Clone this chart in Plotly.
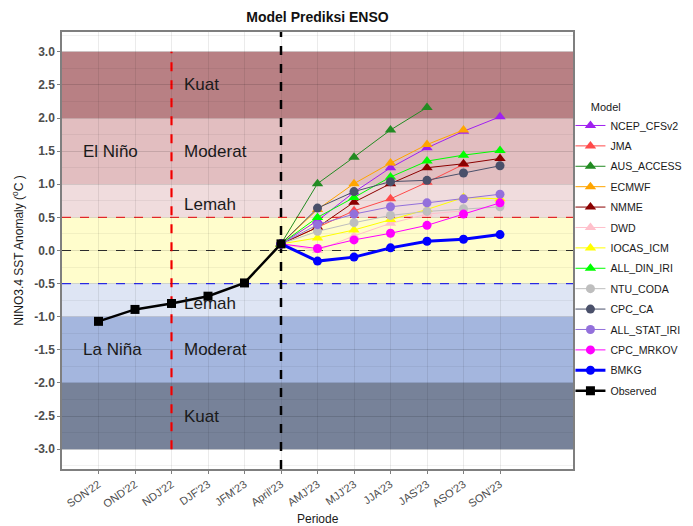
import plotly.graph_objects as go

periods = ["SON'22", "OND'22", "NDJ'22", "DJF'23", "JFM'23", "April'23",
           "AMJ'23", "MJJ'23", "JJA'23", "JAS'23", "ASO'23", "SON'23"]
forecast_periods = periods[5:]

observed = [-1.07, -0.89, -0.80, -0.69, -0.49, 0.10]

# forecasts from AMJ'23 onward (None = no forecast)
ncep_cfsv2   = [0.45, 0.88, 1.25, 1.55, 1.80, 2.02]
jma          = [0.35, 0.60, 0.78, 1.03, 1.30, None]
aus_access   = [1.01, 1.41, 1.82, 2.16, None, None]
ecmwf        = [0.62, 1.01, 1.32, 1.60, 1.82, None]
nmme         = [0.35, 0.73, 1.01, 1.25, 1.31, 1.39]
dwd          = [0.00, 0.22, 0.41, 0.55, 0.60, None]
iocas_icm    = [0.19, 0.31, 0.47, 0.62, 0.80, 0.78]
all_din_iri  = [0.50, 0.80, 1.11, 1.35, 1.44, 1.51]
ntu_coda     = [0.29, 0.42, 0.53, 0.59, 0.63, 0.66]
cpc_ca       = [0.64, 0.89, 1.04, 1.06, 1.17, 1.28]
all_stat_iri = [0.39, 0.55, 0.66, 0.72, 0.78, 0.85]
cpc_mrkov    = [0.03, 0.16, 0.26, 0.38, 0.55, 0.72]
bmkg         = [-0.16, -0.10, 0.04, 0.14, 0.17, 0.24]

models = [
    ("NCEP_CFSv2", ncep_cfsv2, "#A020F0", "triangle-up"),
    ("JMA", jma, "#FF4A4A", "triangle-up"),
    ("AUS_ACCESS", aus_access, "#228B22", "triangle-up"),
    ("ECMWF", ecmwf, "#FFA500", "triangle-up"),
    ("NMME", nmme, "#8B0000", "triangle-up"),
    ("DWD", dwd, "#FFC0CB", "triangle-up"),
    ("IOCAS_ICM", iocas_icm, "#FFFF00", "triangle-up"),
    ("ALL_DIN_IRI", all_din_iri, "#00FF00", "triangle-up"),
    ("NTU_CODA", ntu_coda, "#BEBEBE", "circle"),
    ("CPC_CA", cpc_ca, "#4A506A", "circle"),
    ("ALL_STAT_IRI", all_stat_iri, "#9370DB", "circle"),
    ("CPC_MRKOV", cpc_mrkov, "#FF00FF", "circle"),
    ("BMKG", bmkg, "#0000FF", "circle"),
]

idx = {p: i for i, p in enumerate(periods)}

fig = go.Figure()

# ENSO category bands
bands = [
    (2.0, 3.0, "rgb(184,128,132)"),
    (1.0, 2.0, "rgb(226,190,192)"),
    (0.5, 1.0, "rgb(240,220,221)"),
    (-0.5, 0.5, "rgb(255,253,204)"),
    (-1.0, -0.5, "rgb(222,229,244)"),
    (-2.0, -1.0, "rgb(164,182,222)"),
    (-3.0, -2.0, "rgb(119,130,153)"),
]
for y0, y1, col in bands:
    fig.add_shape(type="rect", xref="paper", yref="y", x0=0, x1=1, y0=y0, y1=y1,
                  fillcolor=col, line_width=0, layer="below")

# reference lines
fig.add_shape(type="line", xref="paper", yref="y", x0=0, x1=1, y0=0.5, y1=0.5,
              line=dict(color="#FF3030", width=1.2, dash="dash"), layer="below")
fig.add_shape(type="line", xref="paper", yref="y", x0=0, x1=1, y0=-0.5, y1=-0.5,
              line=dict(color="#3030FF", width=1.2, dash="dash"), layer="below")
fig.add_shape(type="line", xref="paper", yref="y", x0=0, x1=1, y0=0, y1=0,
              line=dict(color="#333333", width=1.2, dash="dash"), layer="below")
fig.add_shape(type="line", xref="x", yref="y", x0=idx["NDJ'22"], x1=idx["NDJ'22"], y0=-3, y1=3,
              line=dict(color="#FF0000", width=2.2, dash="dash"), layer="below")
fig.add_shape(type="line", xref="x", yref="paper", x0=idx["April'23"], x1=idx["April'23"], y0=0, y1=1,
              line=dict(color="#000000", width=2.5, dash="dash"), layer="below")

# models
for name, vals, col, sym in models:
    xs = [idx[forecast_periods[0]]]
    ys = [observed[-1]]
    for p, v in zip(forecast_periods[1:], vals):
        if v is not None:
            xs.append(idx[p])
            ys.append(v)
    thick = name == "BMKG"
    fig.add_trace(go.Scatter(
        x=xs, y=ys, mode="lines+markers", name=name, legendgroup=name,
        line=dict(color=col, width=3 if thick else 1),
        marker=dict(color=col, symbol=sym, size=10 if sym == "triangle-up" else 9),
    ))

fig.add_trace(go.Scatter(
    x=[idx[p] for p in periods[:len(observed)]], y=observed, mode="lines+markers",
    name="Observed", legendgroup="Observed", line=dict(color="black", width=2.5),
    marker=dict(color="black", symbol="square", size=9),
))

# band labels
labels = [
    (2.3, 2.5, "Kuat"), (2.3, 1.5, "Moderat"), (2.3, 0.7, "Lemah"),
    (-0.47, 1.5, "El Niño"), (-0.47, -1.5, "La Niña"),
    (2.3, -0.8, "Lemah"), (2.3, -1.5, "Moderat"), (2.3, -2.5, "Kuat"),
]
for x, y, t in labels:
    fig.add_annotation(x=x, y=y, text=t, showarrow=False, xanchor="left", yanchor="middle",
                       font=dict(size=17, color="#1a1a1a", family="Liberation Sans, Arial"))

fig.add_annotation(xref="paper", yref="paper", x=0.5, y=-0.114, text="Periode", showarrow=False,
                   xanchor="center", yanchor="middle", font=dict(size=12, color="#1a1a1a"))

yticks = [-3.0, -2.5, -2.0, -1.5, -1.0, -0.5, 0.0, 0.5, 1.0, 1.5, 2.0, 2.5, 3.0]
grid = "rgba(0,0,0,0.08)"

W, H = 685, 518
L, R, T, B = 54, 120, 24, 57

fig.update_layout(
    width=W, height=H,
    margin=dict(l=L, r=R, t=T, b=B, autoexpand=False),
    paper_bgcolor="white", plot_bgcolor="white",
    font=dict(family="Liberation Sans, Arial", color="#1a1a1a"),
    title=dict(text="<b>Model Prediksi ENSO</b>", x=(L + W - R) / 2 / W, xanchor="center",
               y=1 - 9 / H, yanchor="middle", font=dict(size=14, color="#111111")),
    showlegend=True,
    legend=dict(title=dict(text="\u00a0" * 6 + "Model", font=dict(size=11)), x=0.995, xanchor="left",
                y=0.852, yanchor="top", font=dict(size=10.6, color="#1a1a1a"),
                bgcolor="rgba(0,0,0,0)", itemwidth=30, tracegroupgap=1.4),
    xaxis=dict(range=[-1, 13], tickvals=list(range(len(periods))), ticktext=periods,
               tickangle=-35, tickfont=dict(size=11, color="#4D4D4D"),
               showgrid=True, gridcolor=grid, gridwidth=1,
               ticks="outside", ticklen=3, tickcolor="#7F7F7F",
               showline=True, linecolor="#7F7F7F", linewidth=1.5, mirror=True,
               zeroline=False, automargin=False),
    yaxis=dict(range=[-3.3, 3.3], tickvals=yticks, ticktext=["<b>%.1f</b>" % v for v in yticks],
               tickfont=dict(size=12, color="#4D4D4D"),
               showgrid=True, gridcolor=grid, gridwidth=1,
               minor=dict(dtick=0.25, tick0=0, showgrid=True, gridcolor="rgba(0,0,0,0.05)", gridwidth=0.6),
               ticks="outside", ticklen=3, tickcolor="#7F7F7F",
               showline=True, linecolor="#7F7F7F", linewidth=1.5, mirror=True,
               zeroline=False, automargin=False,
               title=dict(text="NINO3.4 SST Anomaly (<sup>o</sup>C )", font=dict(size=12, color="#1a1a1a"),
                          standoff=8)),
)

fig.write_html("out.html")
